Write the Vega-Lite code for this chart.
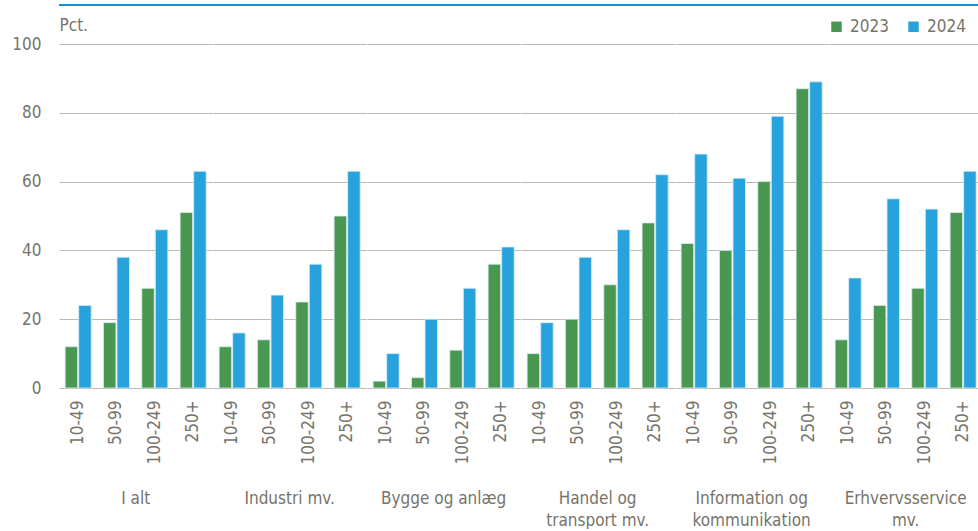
{
  "$schema": "https://vega.github.io/schema/vega-lite/v6.json",
  "padding": {"left": 11, "top": 4, "right": 0, "bottom": 0},
  "background": "white",
  "spacing": 10,
  "vconcat": [
    {
      "width": 920,
      "height": 2,
      "view": {"fill": "#0b95d8", "stroke": null},
      "data": {"values": []},
      "mark": "rule",
      "encoding": {}
    },
    {
      "data": {"values": [
        {"sector": "I alt", "size": "10-49", "year": "2023", "value": 12},
        {"sector": "I alt", "size": "10-49", "year": "2024", "value": 24},
        {"sector": "I alt", "size": "50-99", "year": "2023", "value": 19},
        {"sector": "I alt", "size": "50-99", "year": "2024", "value": 38},
        {"sector": "I alt", "size": "100-249", "year": "2023", "value": 29},
        {"sector": "I alt", "size": "100-249", "year": "2024", "value": 46},
        {"sector": "I alt", "size": "250+", "year": "2023", "value": 51},
        {"sector": "I alt", "size": "250+", "year": "2024", "value": 63},
        {"sector": "Industri mv.", "size": "10-49", "year": "2023", "value": 12},
        {"sector": "Industri mv.", "size": "10-49", "year": "2024", "value": 16},
        {"sector": "Industri mv.", "size": "50-99", "year": "2023", "value": 14},
        {"sector": "Industri mv.", "size": "50-99", "year": "2024", "value": 27},
        {"sector": "Industri mv.", "size": "100-249", "year": "2023", "value": 25},
        {"sector": "Industri mv.", "size": "100-249", "year": "2024", "value": 36},
        {"sector": "Industri mv.", "size": "250+", "year": "2023", "value": 50},
        {"sector": "Industri mv.", "size": "250+", "year": "2024", "value": 63},
        {"sector": "Bygge og anlæg", "size": "10-49", "year": "2023", "value": 2},
        {"sector": "Bygge og anlæg", "size": "10-49", "year": "2024", "value": 10},
        {"sector": "Bygge og anlæg", "size": "50-99", "year": "2023", "value": 3},
        {"sector": "Bygge og anlæg", "size": "50-99", "year": "2024", "value": 20},
        {"sector": "Bygge og anlæg", "size": "100-249", "year": "2023", "value": 11},
        {"sector": "Bygge og anlæg", "size": "100-249", "year": "2024", "value": 29},
        {"sector": "Bygge og anlæg", "size": "250+", "year": "2023", "value": 36},
        {"sector": "Bygge og anlæg", "size": "250+", "year": "2024", "value": 41},
        {"sector": "Handel og|transport mv.", "size": "10-49", "year": "2023", "value": 10},
        {"sector": "Handel og|transport mv.", "size": "10-49", "year": "2024", "value": 19},
        {"sector": "Handel og|transport mv.", "size": "50-99", "year": "2023", "value": 20},
        {"sector": "Handel og|transport mv.", "size": "50-99", "year": "2024", "value": 38},
        {"sector": "Handel og|transport mv.", "size": "100-249", "year": "2023", "value": 30},
        {"sector": "Handel og|transport mv.", "size": "100-249", "year": "2024", "value": 46},
        {"sector": "Handel og|transport mv.", "size": "250+", "year": "2023", "value": 48},
        {"sector": "Handel og|transport mv.", "size": "250+", "year": "2024", "value": 62},
        {"sector": "Information og|kommunikation", "size": "10-49", "year": "2023", "value": 42},
        {"sector": "Information og|kommunikation", "size": "10-49", "year": "2024", "value": 68},
        {"sector": "Information og|kommunikation", "size": "50-99", "year": "2023", "value": 40},
        {"sector": "Information og|kommunikation", "size": "50-99", "year": "2024", "value": 61},
        {"sector": "Information og|kommunikation", "size": "100-249", "year": "2023", "value": 60},
        {"sector": "Information og|kommunikation", "size": "100-249", "year": "2024", "value": 79},
        {"sector": "Information og|kommunikation", "size": "250+", "year": "2023", "value": 87},
        {"sector": "Information og|kommunikation", "size": "250+", "year": "2024", "value": 89},
        {"sector": "Erhvervsservice|mv.", "size": "10-49", "year": "2023", "value": 14},
        {"sector": "Erhvervsservice|mv.", "size": "10-49", "year": "2024", "value": 32},
        {"sector": "Erhvervsservice|mv.", "size": "50-99", "year": "2023", "value": 24},
        {"sector": "Erhvervsservice|mv.", "size": "50-99", "year": "2024", "value": 55},
        {"sector": "Erhvervsservice|mv.", "size": "100-249", "year": "2023", "value": 29},
        {"sector": "Erhvervsservice|mv.", "size": "100-249", "year": "2024", "value": 52},
        {"sector": "Erhvervsservice|mv.", "size": "250+", "year": "2023", "value": 51},
        {"sector": "Erhvervsservice|mv.", "size": "250+", "year": "2024", "value": 63}
      ]},
      "facet": {
        "column": {
          "field": "sector",
          "type": "nominal",
          "sort": ["I alt", "Industri mv.", "Bygge og anlæg", "Handel og|transport mv.", "Information og|kommunikation", "Erhvervsservice|mv."],
          "header": {
            "title": null,
            "labelOrient": "bottom",
            "labelExpr": "split(datum.value, '|')",
            "labelFontSize": 17,
            "labelColor": "#76746a",
            "labelFont": "DejaVu Sans Condensed, Liberation Sans Narrow, Roboto Condensed, sans-serif",
            "labelPadding": 27,
            "labelLineHeight": 22,
            "labelBaseline": "top"
          }
        }
      },
      "spacing": 0,
      "spec": {
        "width": 153.3,
        "height": 344,
        "mark": {"type": "bar", "stroke": "#d8ecf6", "strokeWidth": 0.8},
        "encoding": {
          "x": {
            "field": "size", "type": "nominal",
            "sort": ["10-49", "50-99", "100-249", "250+"],
            "scale": {"paddingInner": 0.32, "paddingOuter": 0.16},
            "axis": {
              "title": null, "labelAngle": -90, "labelAlign": "right", "labelBaseline": "middle",
              "labelFontSize": 17, "labelColor": "#76746a", "labelFont": "DejaVu Sans Condensed, Liberation Sans Narrow, Roboto Condensed, sans-serif",
              "labelPadding": 11, "ticks": false, "domain": false
            }
          },
          "xOffset": {"field": "year", "type": "nominal", "scale": {"paddingInner": 0.08}},
          "y": {
            "field": "value", "type": "quantitative",
            "scale": {"domain": [0, 100]},
            "axis": {
              "title": "Pct.", "titleAngle": 0, "titleAlign": "left", "titleBaseline": "bottom",
              "titleX": 0, "titleY": -10, "titleFontSize": 17, "titleFontWeight": "normal",
              "titleColor": "#76746a", "titleFont": "DejaVu Sans Condensed, Liberation Sans Narrow, Roboto Condensed, sans-serif",
              "values": [0, 20, 40, 60, 80, 100], "labelFontSize": 17, "labelColor": "#76746a",
              "labelFont": "DejaVu Sans Condensed, Liberation Sans Narrow, Roboto Condensed, sans-serif", "labelPadding": 18, "ticks": false, "domain": false,
              "grid": true, "gridColor": "#bdbab0", "gridWidth": 1.2
            }
          },
          "color": {
            "field": "year", "type": "nominal",
            "scale": {"domain": ["2023", "2024"], "range": ["#4a9752", "#27a2dc"]},
            "legend": {
              "title": null, "orient": "none", "direction": "horizontal",
              "legendX": 769, "legendY": 14, "symbolType": "square", "symbolSize": 110,
              "symbolStrokeWidth": 0, "labelFontSize": 17, "labelColor": "#76746a",
              "labelFont": "DejaVu Sans Condensed, Liberation Sans Narrow, Roboto Condensed, sans-serif", "columnPadding": 16, "labelOffset": 5
            }
          }
        }
      }
    }
  ],
  "config": {
    "view": {"stroke": null},
    "axisX": {"grid": false}
  }
}
